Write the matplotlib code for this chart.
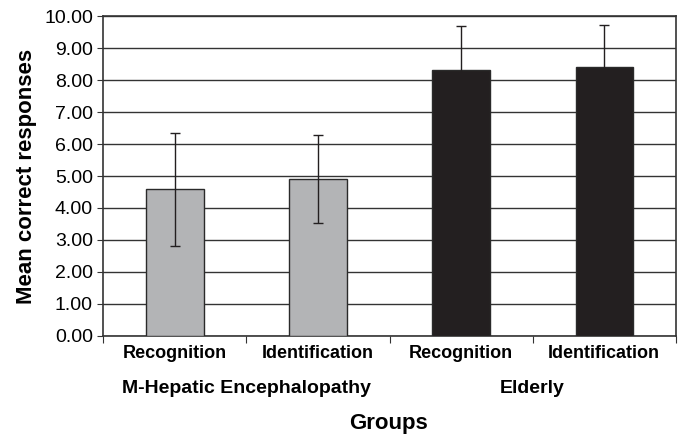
import matplotlib.pyplot as plt
import numpy as np

plt.rcParams['font.family'] = ['Liberation Sans', 'DejaVu Sans']

conditions = ["Recognition", "Identification", "Recognition", "Identification"]
groups = ["M-Hepatic Encephalopathy", "Elderly"]
means = [4.58, 4.91, 8.33, 8.41]
errors = [1.77, 1.38, 1.36, 1.31]
colors = ["#b3b4b6", "#b3b4b6", "#231f20", "#231f20"]

fig = plt.figure(figsize=(6.8, 4.36), dpi=100)
ax = fig.add_axes([0.152, 0.230, 0.8417, 0.7326])

x = np.arange(len(means))
ax.bar(x, means, width=0.4, color=colors, edgecolor="#2a2a2a", linewidth=1.0, zorder=3)
ax.errorbar(x, means, yerr=errors, fmt="none", ecolor="#231f20", elinewidth=1.0,
            capsize=3.3, capthick=1.0, zorder=4)

ax.set_xlim(-0.5, 3.5)
ax.set_ylim(0, 10)
ax.set_yticks(np.arange(0, 10.01, 1))
ax.set_yticklabels([f"{v:.2f}" for v in np.arange(0, 10.01, 1)], fontsize=14)
ax.yaxis.grid(True, color="#333333", linewidth=1.0, zorder=0)
ax.set_axisbelow(True)

ax.set_xticks(np.arange(-0.5, 3.6, 1))
ax.set_xticklabels([])
ax.tick_params(axis="x", direction="out", length=5, color="#333333")
ax.tick_params(axis="y", direction="out", length=4, color="#333333")
for s in ax.spines.values():
    s.set_color("#333333")
    s.set_linewidth(1.2)

# category labels and group labels under the axis
for xi, lab in zip(x, conditions):
    ax.text(xi, -0.57, lab, ha="center", va="center", fontsize=13, fontweight="bold")
ax.text(0.5, -1.65, groups[0], ha="center", va="center", fontsize=14, fontweight="bold")
ax.text(2.5, -1.65, groups[1], ha="center", va="center", fontsize=14, fontweight="bold")

fig.text(389 / 680, 1 - 423 / 436, "Groups", ha="center", va="center", fontsize=16, fontweight="bold")
ax.set_ylabel("Mean correct responses", fontsize=16, fontweight="bold", labelpad=5)

fig.savefig("out.png", dpi=100)
